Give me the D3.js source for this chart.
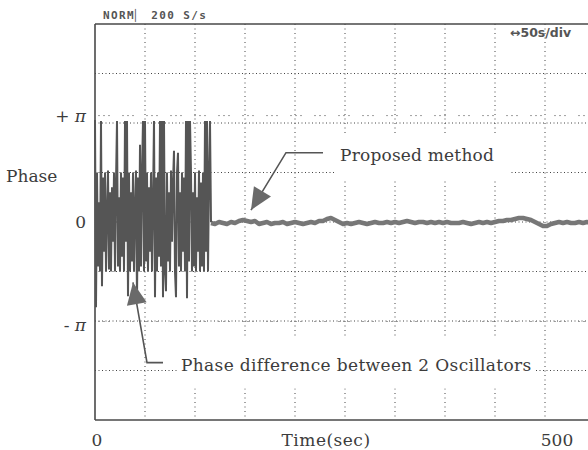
<!DOCTYPE html>
<html>
<head>
<meta charset="utf-8">
<script src="https://cdn.jsdelivr.net/npm/d3@7/dist/d3.min.js"></script>
<style>
  body { margin: 0; background: #fff; }
  svg { display: block; }
</style>
</head>
<body>
<script>
// phase values are in units of pi, time in seconds (scope screen: 50 s/div, 10 div)

// phase difference between the 2 oscillators, one sample per second, t = 0..116
const freeRunPhase = [
  1.03, -0.86, 0.5, -0.45, 0.2, -0.5, 1.02, -0.65, 0.45, -0.3,
  0.5, -0.5, 0.1, 0.52, -0.48, 0.3, -0.5, 0.35, -0.2, 0.5,
  -0.5, 0.4, 1.02, -0.45, 0.25, -0.5, 0.5, -0.35, 0.45, -0.5,
  1.02, -0.2, 1.02, -0.75, 0.5, -0.5, 0.3, -0.4, 0.5, -0.5,
  0.15, 0.52, -0.8, 0.45, -0.5, 0.78, -0.45, 0.5, 1.02, -0.5,
  1.02, -0.4, 0.5, -0.5, 0.35, -0.3, 0.5, -0.5, 0.2, 1.02,
  -0.76, 0.45, -0.5, 0.5, -0.35, 1.02, -0.45, 1.02, -0.76, 1.02,
  -0.5, -0.7, 0.5, -0.4, 0.3, -0.5, 0.52, -0.2, 0.4, 0.72,
  -0.5, -0.76, 0.5, 0.7, -0.45, 0.3, -0.5, 0.5, -0.3, 0.45,
  -0.5, 1.02, -0.77, 1.02, -0.4, 1.02, 0.5, -0.5, 0.3, -0.45,
  0.5, -0.5, 0.25, -0.3, 0.52, -0.5, 0.4, -0.45, 0.5, -0.5,
  1.02, -0.3, 1.02, -0.5, 0.45, 1.02, 0.0
];
const freeRunStart = 0, freeRunStep = 1;

// proposed method, one sample every 4 s, t = 116..500
const lockedPhase = [
  -0.01, -0.02, 0, -0.01, -0.02, 0, -0.01,
  0.01, 0.02, 0.01, 0, 0.01,
  -0.02, -0.01, 0, -0.02, -0.01, -0.01, 0, -0.02, -0.01, 0, -0.01, -0.02, -0.01, 0, -0.01, 0.01, 0.01, 0.03,
  0.04, 0.02, 0, -0.02, -0.01,
  -0.02, -0.01, 0, -0.01, -0.02, -0.01, 0, -0.01, -0.01, 0, -0.01, 0, -0.01, 0, 0.01, 0, -0.01, 0, 0, -0.01, 0, -0.01, 0, -0.01, 0, -0.01, -0.01,
  -0.01, 0, -0.01, -0.02, -0.01, 0, -0.01, 0, -0.01, 0, 0.01, 0.01, 0.02, 0.02,
  0.03, 0.04, 0.04, 0.03, 0.02,
  0, -0.02, -0.04, -0.04, -0.02, -0.01,
  0, -0.01, 0, -0.01, -0.01, 0, -0.01, 0, -0.01, 0
];
const lockedStart = 116, lockedStep = 4;

const xGridTimes = [50, 100, 150, 200, 250, 300, 350, 400, 450];
const yGridPhases = [1.5, 1, 0.5, 0, -0.5, -1, -1.5];
const yTickPhases = [1.07, 0, -1.04];
const yTickLabels = ["+ ", "0", "- "];
const xTickLabels = ["0", "500"];

const width = 588, height = 450;
const svg = d3.select("body").append("svg")
    .attr("width", width)
    .attr("height", height);

// screen of the scope: 500 s wide (runs off the right edge), +-2 pi high
const x = d3.scaleLinear().domain([0, 500]).range([95, 595]);
const y = d3.scaleLinear().domain([-2, 2]).range([420, 24]);
// printed labels under the photo
const xLabel = d3.scaleLinear().domain([0, 500]).range([97, 557]);

const ink = "#3c3c3c";
const serif = "'DejaVu Serif', serif";

// dotted grid
svg.append("g").selectAll("line")
    .data(xGridTimes)
    .enter().append("line")
    .attr("x1", d => x(d)).attr("x2", d => x(d))
    .attr("y1", y(2)).attr("y2", y(-2))
    .attr("stroke", "#444")
    .attr("stroke-width", 1)
    .attr("stroke-dasharray", "1,3.5");

svg.append("g").selectAll("line")
    .data(yGridPhases)
    .enter().append("line")
    .attr("x1", x(0)).attr("x2", width)
    .attr("y1", d => y(d)).attr("y2", d => y(d))
    .attr("stroke", "#444")
    .attr("stroke-width", 1)
    .attr("stroke-dasharray", "1,2.5");

// faint +pi / -pi level marks
svg.append("g").selectAll("line")
    .data([1.08, -1.0])
    .enter().append("line")
    .attr("x1", x(3)).attr("x2", width)
    .attr("y1", d => y(d) + 0.5).attr("y2", d => y(d) + 0.5)
    .attr("stroke", "#888")
    .attr("stroke-width", 0.8)
    .attr("stroke-dasharray", "2,3,2,3,2,12");

// frame
svg.append("path")
    .attr("d", "M" + x(0) + "," + y(2) + " H" + width +
               " M" + x(0) + "," + y(-2) + " H" + width +
               " M" + x(0) + "," + y(2) + " V" + y(-2))
    .attr("fill", "none")
    .attr("stroke", "#4a4a4a")
    .attr("stroke-width", 1.6);

// white boxes behind the annotation texts (they hide the grid on the photo)
svg.append("rect")
    .attr("x", x(240)).attr("y", y(0.88))
    .attr("width", x(415) - x(240)).attr("height", y(0.42) - y(0.88))
    .attr("fill", "#fff");
svg.append("rect")
    .attr("x", x(82)).attr("y", y(-1.16))
    .attr("width", x(440) - x(82)).attr("height", y(-1.68) - y(-1.16))
    .attr("fill", "#fff");

// traces
const line = d3.line()
    .x(d => x(d.t))
    .y(d => y(d.v));

const freeRun = freeRunPhase.map((v, i) => ({ t: freeRunStart + i * freeRunStep, v: v }));
const locked = lockedPhase.map((v, i) => ({ t: lockedStart + i * lockedStep, v: v }));

svg.append("path")
    .datum(locked)
    .attr("d", line)
    .attr("fill", "none")
    .attr("stroke", "#777")
    .attr("stroke-width", 4.5)
    .attr("stroke-linejoin", "round");

svg.append("path")
    .datum(freeRun)
    .attr("d", line)
    .attr("fill", "none")
    .attr("stroke", "#555")
    .attr("stroke-width", 2);

// arrows
function arrow(pts, col) {
    svg.append("path")
        .attr("d", d3.line()(pts.map(p => [x(p[0]), y(p[1])])))
        .attr("fill", "none")
        .attr("stroke", col)
        .attr("stroke-width", 1.6);
    const tip = [x(pts[0][0]), y(pts[0][1])];
    const from = [x(pts[1][0]), y(pts[1][1])];
    const a = Math.atan2(tip[1] - from[1], tip[0] - from[0]);
    const len = 22, half = 10;
    const bx = tip[0] - len * Math.cos(a), by = tip[1] - len * Math.sin(a);
    svg.append("path")
        .attr("d", "M" + tip[0] + "," + tip[1] +
            " L" + (bx + half * Math.sin(a)) + "," + (by - half * Math.cos(a)) +
            " L" + (bx - half * Math.sin(a)) + "," + (by + half * Math.cos(a)) + "Z")
        .attr("fill", "#6a6a6a");
}
arrow([[156, 0.12], [191, 0.70], [228, 0.70]], "#555");
arrow([[38, -0.61], [52, -1.42], [68, -1.42]], "#555");

// annotation texts
svg.append("text")
    .attr("x", x(245)).attr("y", y(0.62))
    .attr("font-family", serif).attr("font-size", 17)
    .attr("letter-spacing", 0.2)
    .attr("fill", ink)
    .text("Proposed method");

svg.append("text")
    .attr("x", x(86)).attr("y", y(-1.5))
    .attr("font-family", serif).attr("font-size", 17)
    .attr("letter-spacing", 0.35)
    .attr("fill", ink)
    .text("Phase difference between 2 Oscillators");

// y labels
svg.append("text")
    .attr("x", 6).attr("y", 182)
    .attr("font-family", serif).attr("font-size", 17)
    .attr("fill", ink)
    .text("Phase");

const yt = svg.append("g").selectAll("text")
    .data(yTickPhases)
    .enter().append("text")
    .attr("x", 86)
    .attr("y", d => y(d) + 6)
    .attr("text-anchor", "end")
    .attr("font-family", serif).attr("font-size", 17)
    .attr("fill", ink);
yt.append("tspan").text((d, i) => yTickLabels[i]);
yt.filter((d, i) => i !== 1).append("tspan")
    .attr("font-style", "italic")
    .text("\u03c0");

// x labels
svg.append("g").selectAll("text")
    .data([0, 500])
    .enter().append("text")
    .attr("x", d => xLabel(d))
    .attr("y", 446)
    .attr("text-anchor", "middle")
    .attr("font-family", serif).attr("font-size", 17)
    .attr("fill", ink)
    .text((d, i) => xTickLabels[i]);

svg.append("text")
    .attr("x", 326).attr("y", 446)
    .attr("text-anchor", "middle")
    .attr("font-family", serif).attr("font-size", 17)
    .attr("letter-spacing", 0.5)
    .attr("fill", ink)
    .text("Time(sec)");

// scope screen readouts
svg.append("text")
    .attr("x", 103).attr("y", 19)
    .attr("font-family", "'DejaVu Sans Mono', monospace")
    .attr("font-size", 11).attr("font-weight", "bold")
    .attr("letter-spacing", 1.4)
    .attr("fill", "#555")
    .text("NORM\u258f 200 S/s");

svg.append("text")
    .attr("x", 510).attr("y", 37)
    .attr("font-family", "'DejaVu Sans', sans-serif")
    .attr("font-size", 12.5).attr("font-weight", "bold")
    .attr("fill", "#555")
    .text("\u219450s/div");
</script>
</body>
</html>
